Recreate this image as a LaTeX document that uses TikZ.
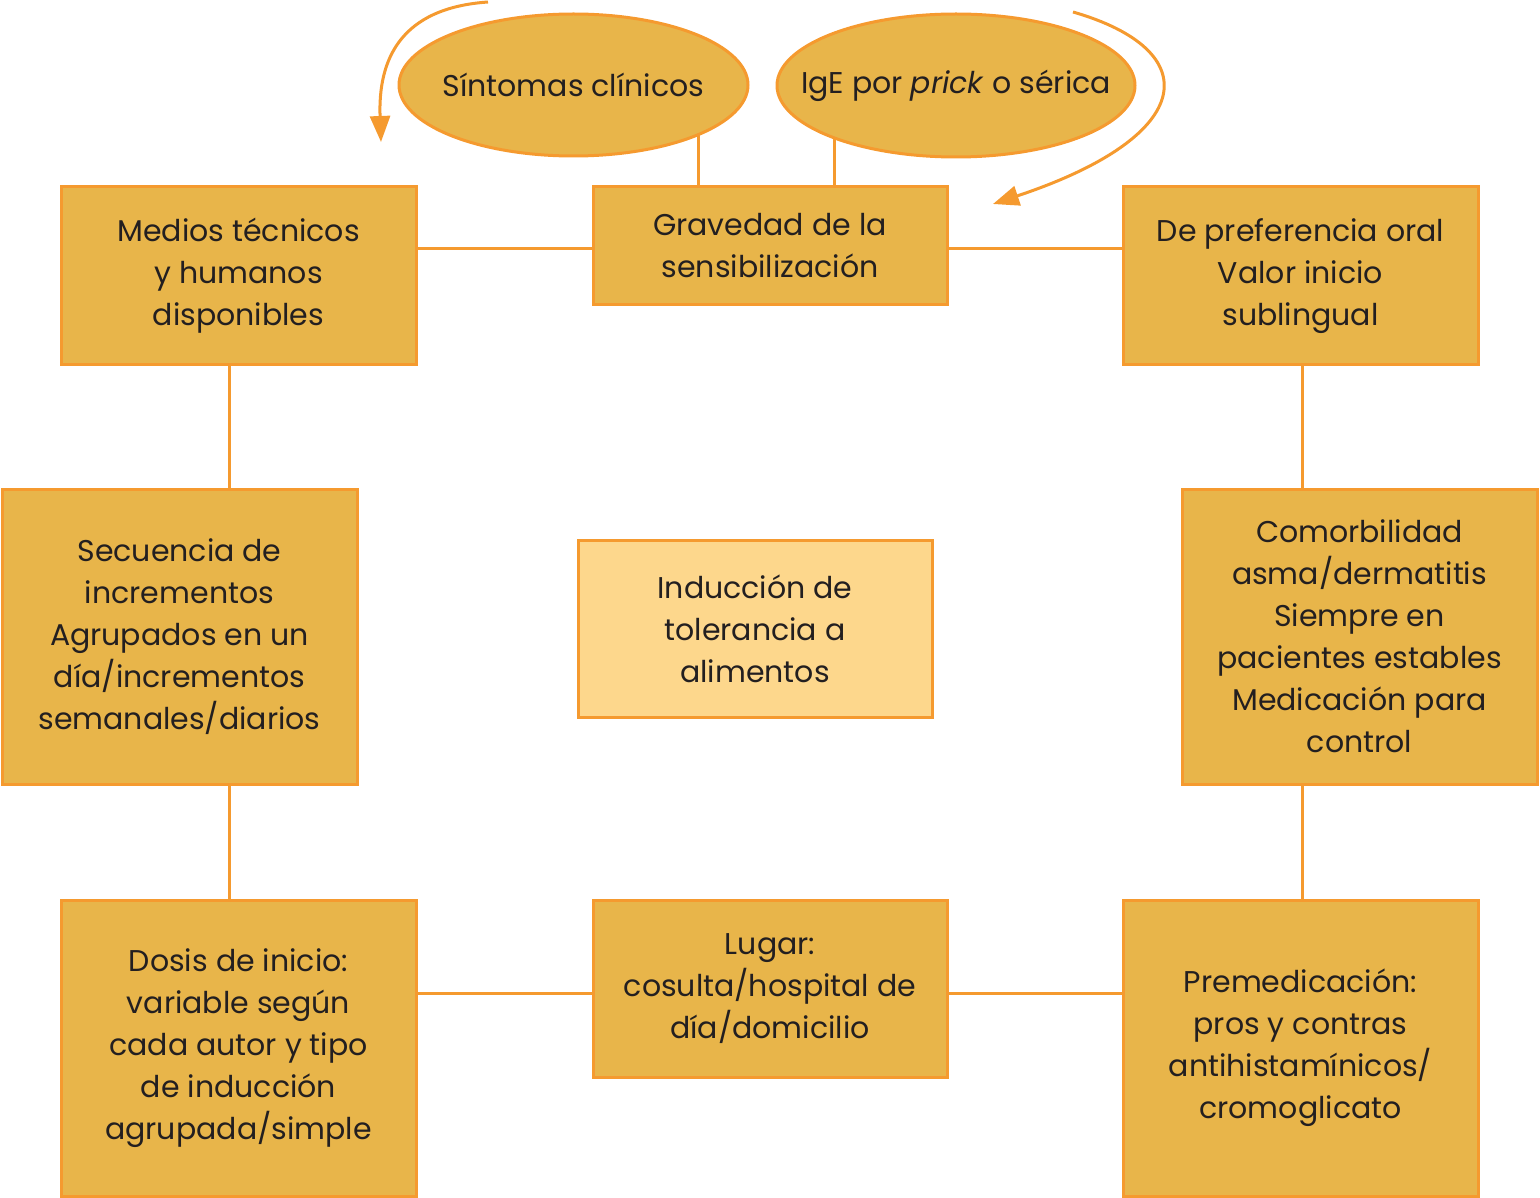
\documentclass[tikz,border=0pt]{standalone}
\usepackage{fontspec}
\setmainfont{Poppins}
\usetikzlibrary{arrows.meta,shapes.geometric}
\definecolor{boxfill}{HTML}{E8B54A}
\definecolor{boxline}{HTML}{F59A2F}
\definecolor{centerfill}{HTML}{FDD78C}
\definecolor{ink}{HTML}{231F20}
\begin{document}
\begin{tikzpicture}[x=1pt,y=-1pt,
  box/.style={draw=boxline,fill=boxfill,line width=3pt,align=center,inner sep=0pt,
    font=\fontsize{30}{42}\selectfont,text=ink},
  oval/.style={ellipse,draw=boxline,fill=boxfill,line width=3pt,inner sep=0pt},
  ovaltext/.style={font=\fontsize{30}{42}\selectfont,text=ink},
  conn/.style={draw=boxline,line width=3pt},
  arr/.style={draw=boxline,line width=3pt,-{Triangle[width=20pt,length=26pt]}}]
\useasboundingbox (0,0) rectangle (1540,1198);
% boxes
\node[box,minimum width=355pt,minimum height=178pt] (medios) at (238.5,276) {Medios técnicos\\y humanos\\disponibles};
\node[box,minimum width=354pt,minimum height=118pt] (grav) at (770,246) {Gravedad de la\\sensibilización};
\node[box,minimum width=355pt,minimum height=178pt] (pref) at (1300.5,276) {De preferencia oral\\Valor inicio\\sublingual};
\node[box,minimum width=355pt,minimum height=295pt] (sec) at (179.5,636.5) {Secuencia de\\incrementos\\Agrupados en un\\día/incrementos\\semanales/diarios};
\node[box,fill=centerfill,minimum width=354pt,minimum height=177pt] (ind) at (755,628.5) {Inducción de\\tolerancia a\\alimentos};
\node[box,minimum width=355pt,minimum height=295pt] (com) at (1359.5,636.5) {Comorbilidad\\asma/dermatitis\\Siempre en\\pacientes estables\\Medicación para\\control};
\node[box,minimum width=355pt,minimum height=296pt] (dosis) at (238.5,1048) {Dosis de inicio:\\variable según\\cada autor y tipo\\de inducción\\agrupada/simple};
\node[box,minimum width=354pt,minimum height=177pt] (lugar) at (770,988.5) {Lugar:\\cosulta/hospital de\\día/domicilio};
\node[box,minimum width=355pt,minimum height=296pt] (prem) at (1300.5,1048) {Premedicación:\\pros y contras\\antihistamínicos/\\cromoglicato};
% ellipse anchor coordinates
\coordinate (sintc) at (573.5,85);
\coordinate (igec) at (956,85.5);
% connectors
\draw[conn] (medios.east |- 0,249) -- (grav.west |- 0,249);
\draw[conn] (grav.east |- 0,249) -- (pref.west |- 0,249);
\draw[conn] (medios.south -| 229,0) -- (sec.north -| 229,0);
\draw[conn] (sec.south -| 229,0) -- (dosis.north -| 229,0);
\draw[conn] (pref.south -| 1302,0) -- (com.north -| 1302,0);
\draw[conn] (com.south -| 1302,0) -- (prem.north -| 1302,0);
\draw[conn] (dosis.east |- 0,993) -- (lugar.west |- 0,993);
\draw[conn] (lugar.east |- 0,993) -- (prem.west |- 0,993);
\draw[conn] (grav.north -| 698,0) -- (sintc -| 698,0);
\draw[conn] (grav.north -| 834,0) -- (igec -| 834,0);
% ellipses
\node[oval,minimum width=349pt,minimum height=142pt,label={[ovaltext]center:Síntomas clínicos}] (sint) at (sintc) {};
\node[oval,minimum width=358pt,minimum height=143pt,label={[ovaltext]center:IgE por \textit{prick} o sérica}] (ige) at (igec) {};
% curved arrows
\coordinate (a1s) at (488,2);
\coordinate (a1e) at (381,142);
\coordinate (a2s) at (1073,12);
\coordinate (a2e) at (993,204);
\draw[arr] (a1s) .. controls (400,8) and (378,60) .. (a1e);
\draw[arr] (a2s) .. controls (1205,50) and (1200,135) .. (a2e);
\end{tikzpicture}
\end{document}
